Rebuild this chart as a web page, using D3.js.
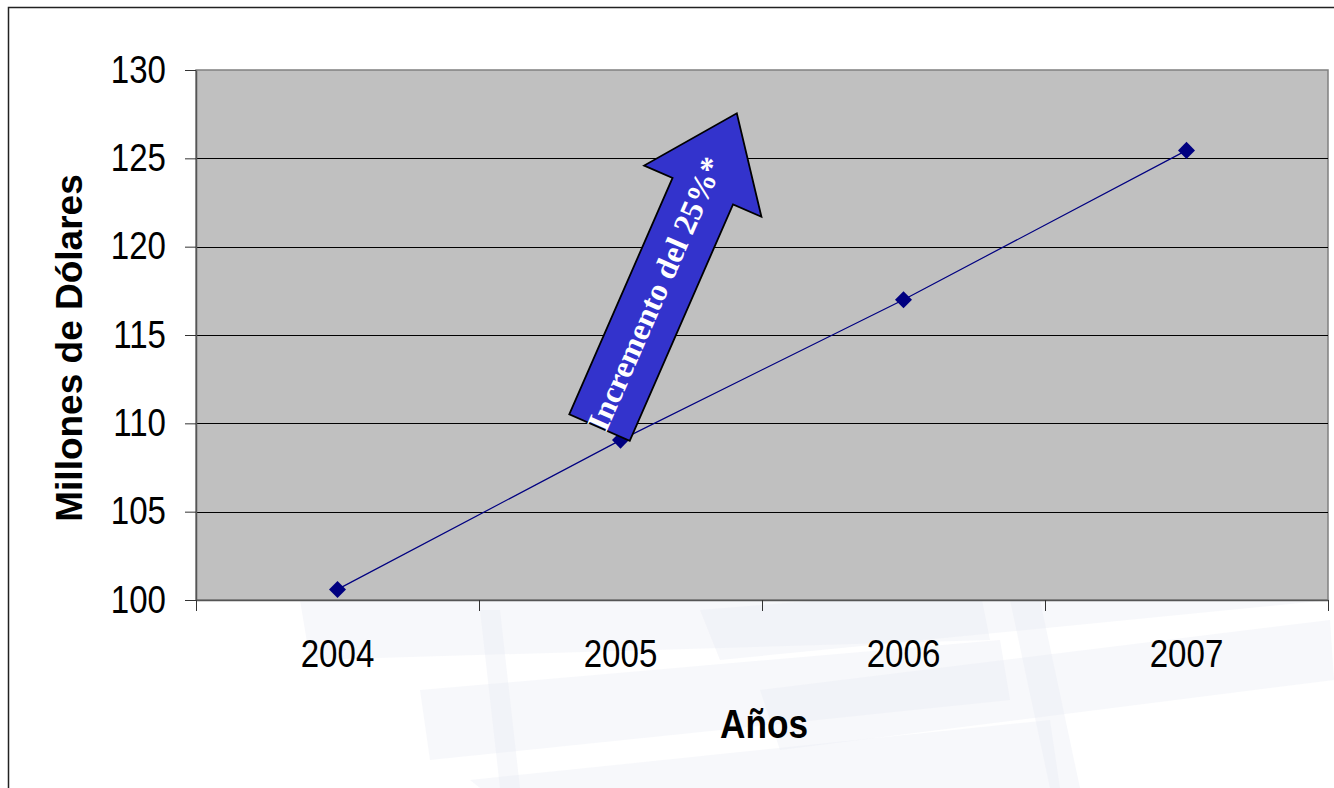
<!DOCTYPE html>
<html>
<head>
<meta charset="utf-8">
<script src="https://cdn.jsdelivr.net/npm/d3@7"></script>
<style>
  body { margin: 0; background: #fff; }
  svg { display: block; }
</style>
</head>
<body>
<div id="chart"></div>
<script>
// data
var years = ["2004", "2005", "2006", "2007"];
var valores = [100.6, 109.05, 117.0, 125.45];
var yTicks = [100, 105, 110, 115, 120, 125, 130];
var flecha = "Incremento del 25%*";

var W = 1334, H = 788;
var margin = {left: 196, top: 70, right: 6, bottom: 188};
var pw = W - margin.left - margin.right,
    ph = H - margin.top - margin.bottom;

var svg = d3.select("#chart").append("svg")
    .attr("width", W)
    .attr("height", H);

// faint watermark shapes in the background
var marca = [
  [[300, 600], [980, 590], [990, 640], [310, 660]],
  [[420, 690], [1000, 640], [1010, 700], [430, 760]],
  [[470, 780], [1050, 720], [1060, 788], [480, 788]],
  [[700, 610], [1320, 560], [1330, 600], [720, 660]],
  [[760, 690], [1330, 620], [1334, 680], [780, 750]],
  [[1010, 600], [1040, 600], [1080, 788], [1050, 788]],
  [[480, 610], [500, 610], [520, 788], [500, 788]]
];
svg.append("g").selectAll("polygon")
  .data(marca)
  .join("polygon")
    .attr("points", function(d) { return d.join(" "); })
    .attr("fill", "#e4e8f2")
    .attr("opacity", 0.3);

// outer frame
svg.append("path")
    .attr("d", "M8.5," + H + "V7.5H" + W)
    .attr("fill", "none")
    .attr("stroke", "#222")
    .attr("stroke-width", 1.5);

var g = svg.append("g").attr("transform", "translate(" + margin.left + "," + margin.top + ")");

var x = d3.scaleBand().domain(years).range([0, pw]);
var y = d3.scaleLinear().domain([100, 130]).range([ph, 0]);

// plot area
g.append("rect")
    .attr("width", pw)
    .attr("height", ph)
    .attr("fill", "#c0c0c0")
    .attr("stroke", "#808080")
    .attr("stroke-width", 1.5);

// grid lines
g.selectAll(".grid")
  .data(yTicks.slice(1, -1))
  .join("line")
    .attr("class", "grid")
    .attr("x1", 0).attr("x2", pw)
    .attr("y1", function(d) { return Math.round(y(d)) + 0.5; })
    .attr("y2", function(d) { return Math.round(y(d)) + 0.5; })
    .attr("stroke", "#000")
    .attr("stroke-width", 1.2);

// tick labels in the picture are a bit narrow: squeeze them
function squeeze(sel) {
  sel.attr("font-family", "Liberation Sans, Arial, sans-serif")
     .attr("font-size", 38)
     .attr("fill", "#000")
     .each(function() {
       var w = this.getComputedTextLength();
       d3.select(this).attr("textLength", w * 0.87).attr("lengthAdjust", "spacingAndGlyphs");
     });
}

// y axis
var yAxis = g.append("g")
    .call(d3.axisLeft(y).tickValues(yTicks).tickSize(11).tickPadding(19).tickSizeOuter(0));
yAxis.select(".domain").attr("stroke", "#555").attr("stroke-width", 1.5);
yAxis.selectAll(".tick line").attr("stroke", "#333");
yAxis.selectAll("text").call(squeeze);

// x axis with ticks between categories
var xAxis = g.append("g")
    .attr("transform", "translate(0," + ph + ")")
    .call(d3.axisBottom(x).tickSize(0).tickPadding(40).tickSizeOuter(0));
xAxis.select(".domain").attr("stroke", "#555").attr("stroke-width", 1.5);
xAxis.selectAll("text").call(squeeze);
xAxis.selectAll(".sep")
  .data(d3.range(years.length + 1))
  .join("line")
    .attr("class", "sep")
    .attr("x1", function(i) { return Math.round(i * x.step()) + 0.5; })
    .attr("x2", function(i) { return Math.round(i * x.step()) + 0.5; })
    .attr("y1", 0).attr("y2", 11)
    .attr("stroke", "#333");

// axis titles
svg.append("text")
    .attr("transform", "translate(82,348) rotate(-90)")
    .attr("text-anchor", "middle")
    .attr("font-family", "Liberation Sans, Arial, sans-serif")
    .attr("font-weight", "bold")
    .attr("font-size", 37)
    .text("Millones de Dólares");

svg.append("text")
    .attr("x", 764)
    .attr("y", 738)
    .attr("text-anchor", "middle")
    .attr("font-family", "Liberation Sans, Arial, sans-serif")
    .attr("font-weight", "bold")
    .attr("font-size", 40)
    .attr("textLength", 88)
    .attr("lengthAdjust", "spacingAndGlyphs")
    .text("Años");

// series line and diamond markers
var pts = years.map(function(yr, i) { return [x(yr) + x.bandwidth() / 2, y(valores[i])]; });

g.append("path")
    .datum(pts)
    .attr("fill", "none")
    .attr("stroke", "#000080")
    .attr("stroke-width", 1.2)
    .attr("d", d3.line());

g.selectAll(".mk")
  .data(pts)
  .join("path")
    .attr("class", "mk")
    .attr("transform", function(d) { return "translate(" + d[0] + "," + d[1] + ")"; })
    .attr("d", d3.symbol(d3.symbolDiamond2, 185))
    .attr("fill", "#000080");

// block arrow annotation, anchored near the 2005 point
var L = 343, headL = 85, shaft = 33, head = 64;
var arrowPts = [
  [0, -shaft], [L - headL, -shaft], [L - headL, -head], [L, 0],
  [L - headL, head], [L - headL, shaft], [0, shaft]
];
var ax = x("2005") + x.bandwidth() / 2 - 21,
    ay = y(109.76);
var arrow = g.append("g")
    .attr("transform", "translate(" + ax + "," + ay + ") rotate(-66.4)");

arrow.append("polygon")
    .attr("points", arrowPts.join(" "))
    .attr("fill", "#3333cc")
    .attr("stroke", "#000")
    .attr("stroke-width", 1.8)
    .attr("stroke-linejoin", "miter");

arrow.append("text")
    .attr("x", 145)
    .attr("y", -3)
    .attr("dy", "0.35em")
    .attr("text-anchor", "middle")
    .attr("font-family", "Liberation Serif, Times New Roman, serif")
    .attr("font-weight", "bold")
    .attr("font-size", 32)
    .attr("fill", "#fff")
    .text(flecha);
</script>
</body>
</html>
